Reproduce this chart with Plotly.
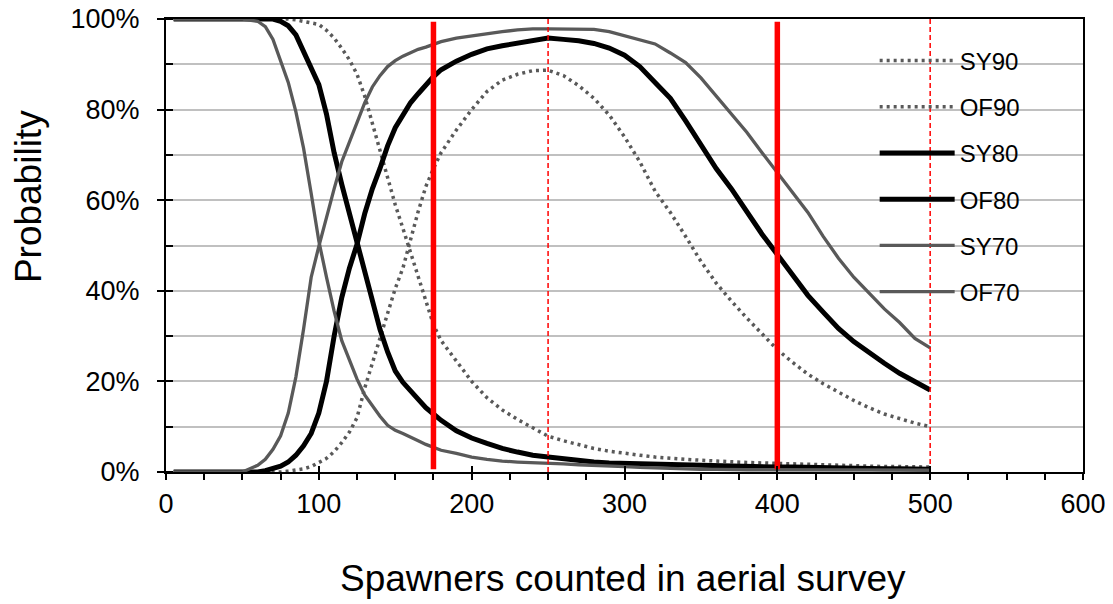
import plotly.graph_objects as go

# ---------------- data ----------------
x_vals = [5, 20, 40, 50, 60, 65, 70, 75, 80, 85, 90, 95, 100, 105, 110, 115, 120, 125,
          130, 135, 140, 145, 150, 155, 160, 165, 170, 175, 180, 190, 200, 210, 220, 230,
          240, 250, 260, 270, 280, 290, 300, 310, 320, 330, 340, 350, 360, 370, 380, 390,
          400, 410, 420, 430, 440, 450, 460, 470, 480, 490, 500]

# probabilities in percent
sy90 = [0, 0, 0, 0, 0, 0, 0, 0, 0.2, 0.4, 0.7, 1.2, 2, 3, 4.5, 6.5, 8.8, 12,
        18.5, 24, 30, 35.5, 40.5, 45, 51.5, 57.5, 63, 67, 70.5, 75.5, 80, 84, 86.5, 87.8,
        88.6, 88.7, 87.5, 85.3, 82.5, 78.8, 74, 68.5, 62, 57.3, 52, 46.5, 41.7, 37.7, 34, 30.5,
        27, 24.2, 21.6, 19.5, 17.6, 15.8, 14.2, 12.8, 11.8, 10.8, 10]
of90 = [100, 100, 100, 100, 100, 100, 100, 100, 100, 99.8, 99.5, 99.2, 98.8, 97.5, 95.8, 93.5, 91, 87.8,
        83, 77, 71, 65.3, 59, 53.8, 48.5, 43.5, 38, 32.5, 29, 24.5, 20, 16.4, 13.7, 11.6,
        9.8, 7.9, 6.9, 6, 5.2, 4.6, 4.1, 3.7, 3.3, 3.0, 2.8, 2.6, 2.4, 2.3, 2.1, 2.0,
        1.9, 1.8, 1.6, 1.5, 1.4, 1.3, 1.3, 1.2, 1.2, 1.1, 1.1]
sy80 = [0, 0, 0, 0, 0, 0.3, 0.7, 1.3, 2.2, 3.7, 5.8, 8.5, 13, 20, 30, 38.5, 45, 50.3,
        57, 62.5, 67, 72, 76, 79, 81.5, 83.5, 85.5, 87.3, 88.8, 90.7, 92.2, 93.4, 94.1, 94.7,
        95.3, 95.8, 95.5, 95.2, 94.6, 93.6, 92, 89.5, 86, 82.5, 77.5, 72, 67, 62.5, 57.5, 52.5,
        48, 43.5, 39, 35.3, 31.7, 28.8, 26.3, 24, 21.8, 20, 18.1]
of80 = [100, 100, 100, 100, 100, 100, 100, 99.5, 98.5, 96.5, 93, 89.5, 85.5, 79, 70.5, 63.5, 57, 50,
        43.5, 37.5, 31.5, 26.5, 22.3, 19.8, 17.8, 15.8, 14.2, 12.8, 11.4, 9.1, 7.5, 6.3, 5.2, 4.4,
        3.7, 3.3, 2.9, 2.5, 2.2, 2, 1.9, 1.8, 1.7, 1.6, 1.5, 1.4, 1.35, 1.3, 1.2, 1.2,
        1.1, 1.1, 1.0, 1.0, 0.9, 0.9, 0.8, 0.7, 0.7, 0.6, 0.6]
sy70 = [0, 0, 0, 0, 1.5, 2.8, 5, 8, 13, 21, 31.5, 43, 49.8, 56.5, 62.5, 68.5, 73, 77.5,
        81.5, 85, 87.5, 89.5, 90.8, 91.8, 92.6, 93.3, 93.8, 94.4, 95, 95.8, 96.3, 96.8, 97.2, 97.6,
        97.8, 97.8, 97.8, 97.8, 97.7, 97.2, 96.3, 95.5, 94.5, 92.5, 90.4, 87, 83, 79, 75, 70.5,
        66, 61.5, 57.3, 52, 47.2, 43, 39.5, 36, 33, 29.5, 27.4]
of70 = [100, 100, 100, 100, 99.5, 98.3, 95.5, 91, 86, 79.5, 71.5, 61.5, 51, 43, 35.5, 29, 24.5, 20.5,
        17, 14.5, 12.3, 10.3, 9.2, 8.5, 7.6, 6.9, 6.1, 5.4, 4.8, 4.1, 3.3, 2.8, 2.4, 2.2,
        2.1, 2.0, 1.8, 1.6, 1.5, 1.3, 1.2, 1.0, 0.9, 0.7, 0.7, 0.6, 0.6, 0.5, 0.5, 0.5,
        0.5, 0.5, 0.5, 0.4, 0.4, 0.4, 0.4, 0.4, 0.4, 0.4, 0.4]

series_names = ["SY90", "OF90", "SY80", "OF80", "SY70", "OF70"]
series_values = [sy90, of90, sy80, of80, sy70, of70]

solid_ref_x = [175, 400]
dashed_ref_x = [250, 500]

x_ticks = [0, 100, 200, 300, 400, 500, 600]
y_ticks = [0, 0.2, 0.4, 0.6, 0.8, 1.0]

# ---------------- styles ----------------
GRAY = "#595959"
styles = {
    "SY90": dict(color=GRAY, width=3.5, dash="3px,4px"),
    "OF90": dict(color=GRAY, width=3.5, dash="3px,4px"),
    "SY80": dict(color="black", width=5),
    "OF80": dict(color="black", width=5),
    "SY70": dict(color=GRAY, width=3.3),
    "OF70": dict(color=GRAY, width=3.3),
}
FONT = "Arial, Liberation Sans, sans-serif"

fig = go.Figure()
for name, vals in zip(series_names, series_values):
    fig.add_trace(go.Scatter(
        x=x_vals, y=[v / 100 for v in vals], mode="lines", name=name,
        line=styles[name], legendgroup=name,
    ))

for xv in dashed_ref_x:
    fig.add_trace(go.Scatter(x=[xv, xv], y=[0, 1], mode="lines", showlegend=False,
                             line=dict(color="#FF0000", width=1.5, dash="5px,3px"),
                             hoverinfo="skip"))
for xv in solid_ref_x:
    fig.add_trace(go.Scatter(x=[xv, xv], y=[0.006, 0.994], mode="lines", showlegend=False,
                             line=dict(color="#FF0000", width=5.5), hoverinfo="skip"))

fig.update_layout(
    width=1113, height=604,
    margin=dict(l=158, r=38, t=11, b=140, autoexpand=False),
    paper_bgcolor="white", plot_bgcolor="white",
    font=dict(family=FONT, color="black"),
    showlegend=True,
    legend=dict(x=0.7728, y=0.957, xanchor="left", yanchor="top",
                font=dict(size=24, family=FONT, color="black"),
                bgcolor="rgba(0,0,0,0)", borderwidth=0,
                tracegroupgap=12, itemwidth=75),
    xaxis=dict(range=[0, 600], tickvals=x_ticks, ticks="outside", ticklen=6, tickwidth=2,
               tickcolor="black", showline=True, linecolor="black", linewidth=2, mirror=True,
               showgrid=False, zeroline=False, automargin=False, ticklabeloverflow="allow",
               tickfont=dict(size=27, family=FONT, color="black"), ticklabelstandoff=1,
               minor=dict(dtick=25, ticks="outside", ticklen=6, tickwidth=1.5, tickcolor="black",
                          showgrid=False)),
    yaxis=dict(range=[0, 1], tickvals=y_ticks, tickformat=".0%", ticks="outside", ticklen=7,
               tickwidth=2, tickcolor="black", showline=True, linecolor="black", linewidth=2,
               mirror=True, showgrid=True, gridcolor="#C0C0C0", gridwidth=1.5, zeroline=False,
               automargin=False, ticklabeloverflow="allow",
               tickfont=dict(size=27, family=FONT, color="black"), ticklabelstandoff=12,
               minor=dict(dtick=0.1, ticks="inside", ticklen=7, tickwidth=1.5, tickcolor="black",
                          showgrid=True, gridcolor="#C0C0C0", gridwidth=1.5)),
    xaxis2=dict(range=[0, 600], overlaying="x", tickvals=x_ticks, ticks="inside", ticklen=6,
                tickwidth=2, tickcolor="black", showticklabels=False, showgrid=False,
                zeroline=False, showline=False, automargin=False),
    yaxis2=dict(range=[0, 1], overlaying="y", tickvals=y_ticks, ticks="inside", ticklen=7,
                tickwidth=2, tickcolor="black", showticklabels=False, showgrid=False,
                zeroline=False, showline=False, automargin=False),
    annotations=[
        dict(text="Probability", xref="paper", yref="paper", x=-0.1505, y=0.609,
             xanchor="center", yanchor="middle", textangle=-90, showarrow=False,
             font=dict(size=37, family=FONT, color="black")),
        dict(text="Spawners counted in aerial survey", xref="paper", yref="paper",
             x=0.4984, y=-0.234, xanchor="center", yanchor="middle", showarrow=False,
             font=dict(size=37, family=FONT, color="black")),
    ],
)
# invisible trace so the overlay axes (inner halves of major ticks) are drawn
fig.add_trace(go.Scatter(x=[0], y=[0], xaxis="x2", yaxis="y2", mode="markers",
                         marker=dict(opacity=0), showlegend=False, hoverinfo="skip"))

fig.write_html("out.html")
